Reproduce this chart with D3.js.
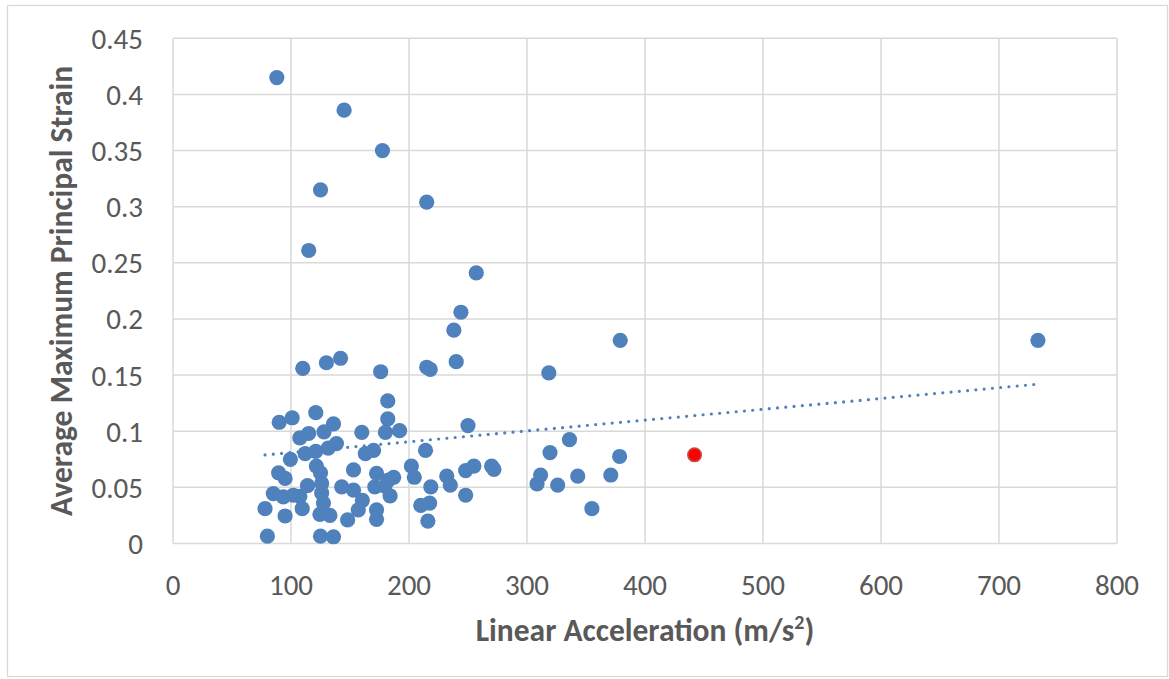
<!DOCTYPE html>
<meta charset="utf-8">
<style>
  body { margin: 0; background: #fff; }
  text { font-family: Calibri, Carlito, Lato, sans-serif; fill: #595959; }
</style>
<body>
  <svg width="1169" height="679"></svg>

  <script src="https://cdnjs.cloudflare.com/ajax/libs/d3/7.8.5/d3.min.js"></script>
  <script>

    // linear acceleration (m/s^2) and average max principal strain
    var accel = [88, 145, 177.5, 125, 215, 115, 257, 244, 238, 240, 110, 130, 142, 176, 215, 218,
      379, 733, 318.5, 336, 319.5, 378.5, 311.5, 308.5, 326, 343, 371, 355, 270, 272,
      192, 250, 214, 202, 204.5, 218.5, 232, 235, 248, 255, 248, 210, 217.5, 216,
      182, 182, 180, 160, 136, 138.5, 163, 170, 153, 172.5, 187, 171, 184, 143, 153,
      160.5, 157, 172.5, 172.5, 148, 136, 133, 90, 101, 121, 107.5, 115, 128, 99.5,
      112, 121, 131.5, 89.5, 95, 121.5, 125, 114, 126, 85, 93.5, 102, 107.5, 78, 95,
      109.5, 124.5, 127.5, 126, 80, 125, 182.5, 179.5]
    var strain = [0.415, 0.386, 0.350, 0.315, 0.304, 0.261, 0.241, 0.206, 0.190, 0.162, 0.156, 0.161, 0.165, 0.153, 0.157, 0.155,
      0.181, 0.181, 0.152, 0.0925, 0.081, 0.0775, 0.061, 0.053, 0.052, 0.060, 0.061, 0.031, 0.069, 0.066,
      0.1005, 0.105, 0.083, 0.069, 0.059, 0.0505, 0.060, 0.052, 0.065, 0.069, 0.043, 0.034, 0.036, 0.020,
      0.127, 0.111, 0.099, 0.099, 0.1065, 0.089, 0.080, 0.083, 0.0655, 0.0625, 0.059, 0.0505, 0.0425, 0.0505, 0.0475,
      0.0385, 0.030, 0.030, 0.0215, 0.021, 0.006, 0.025, 0.108, 0.112, 0.1165, 0.094, 0.098, 0.0995, 0.075,
      0.080, 0.082, 0.085, 0.063, 0.058, 0.069, 0.063, 0.0515, 0.0535, 0.0445, 0.0415, 0.043, 0.042, 0.031, 0.0245,
      0.031, 0.026, 0.036, 0.045, 0.0065, 0.0065, 0.0565, 0.051]

    // the highlighted case
    var redAccel = [442]
    var redStrain = [0.079]

    // linear trendline as drawn (from min x to max x)
    var trendSlope = 0.0000963
    var trendIntercept = 0.0714

    var xTicks = [0, 100, 200, 300, 400, 500, 600, 700, 800]
    var yTicks = [0, 0.05, 0.1, 0.15, 0.2, 0.25, 0.3, 0.35, 0.4, 0.45]

    var blue = '#4f81bd'
    var grid = '#d9d9d9'

    var svg = d3.select('svg')

    // chart border
    svg.append('rect')
      .attr('x', 7.5).attr('y', 5.5)
      .attr('width', 1160).attr('height', 671)
      .attr('fill', 'white')
      .attr('stroke', grid)
      .attr('stroke-width', 1.3)

    var x = d3.scaleLinear().domain([0, 800]).range([173, 1117])
    var y = d3.scaleLinear().domain([0, 0.45]).range([543.5, 38.3])

    // gridlines
    svg.append('g').selectAll('line')
      .data(xTicks)
      .join('line')
      .attr('x1', d => x(d)).attr('x2', d => x(d))
      .attr('y1', y(0)).attr('y2', y(0.45))
      .attr('stroke', grid).attr('stroke-width', 1.5)

    svg.append('g').selectAll('line')
      .data(yTicks)
      .join('line')
      .attr('x1', x(0)).attr('x2', x(800))
      .attr('y1', d => y(d)).attr('y2', d => y(d))
      .attr('stroke', grid).attr('stroke-width', 1.5)

    // tick labels
    svg.append('g').selectAll('text')
      .data(yTicks)
      .join('text')
      .attr('x', x(0) - 30)
      .attr('y', d => y(d))
      .attr('dy', '0.36em')
      .attr('text-anchor', 'end')
      .style('font-size', '29px')
      .text(d => d3.format('~g')(d))

    svg.append('g').selectAll('text')
      .data(xTicks)
      .join('text')
      .attr('x', d => x(d))
      .attr('y', 595)
      .attr('text-anchor', 'middle')
      .style('font-size', '29px')
      .text(d => d)

    // axis titles
    svg.append('text')
      .attr('transform', 'translate(72,' + ((y(0) + y(0.45)) / 2) + ') rotate(-90)')
      .attr('text-anchor', 'middle')
      .style('font-size', '31.5px')
      .style('font-weight', 'bold')
      .text('Average Maximum Principal Strain')

    var xt = svg.append('text')
      .attr('x', (x(0) + x(800)) / 2)
      .attr('y', 641)
      .attr('text-anchor', 'middle')
      .style('font-size', '31.5px')
      .style('font-weight', 'bold')
    xt.append('tspan').text('Linear Acceleration (m/s')
    xt.append('tspan').attr('dy', -12).style('font-size', '20px').text('2')
    xt.append('tspan').attr('dy', 12).text(')')

    // trendline
    var xMin = d3.min(accel), xMax = d3.max(accel)
    svg.append('line')
      .attr('x1', x(xMin)).attr('y1', y(trendIntercept + trendSlope * xMin))
      .attr('x2', x(xMax)).attr('y2', y(trendIntercept + trendSlope * xMax))
      .attr('stroke', blue)
      .attr('stroke-width', 3.2)
      .attr('stroke-linecap', 'round')
      .attr('stroke-dasharray', '0,8.3')

    // points
    svg.append('g').selectAll('circle')
      .data(accel.map((a, i) => [a, strain[i]]))
      .join('circle')
      .attr('cx', d => x(d[0]))
      .attr('cy', d => y(d[1]))
      .attr('r', 7.6)
      .attr('fill', blue)

    svg.append('g').selectAll('circle')
      .data(redAccel.map((a, i) => [a, redStrain[i]]))
      .join('circle')
      .attr('cx', d => x(d[0]))
      .attr('cy', d => y(d[1]))
      .attr('r', 6.8)
      .attr('fill', '#ff0000')
      .attr('stroke', '#c0504d')
      .attr('stroke-width', 1.5)

  </script>
</body>
